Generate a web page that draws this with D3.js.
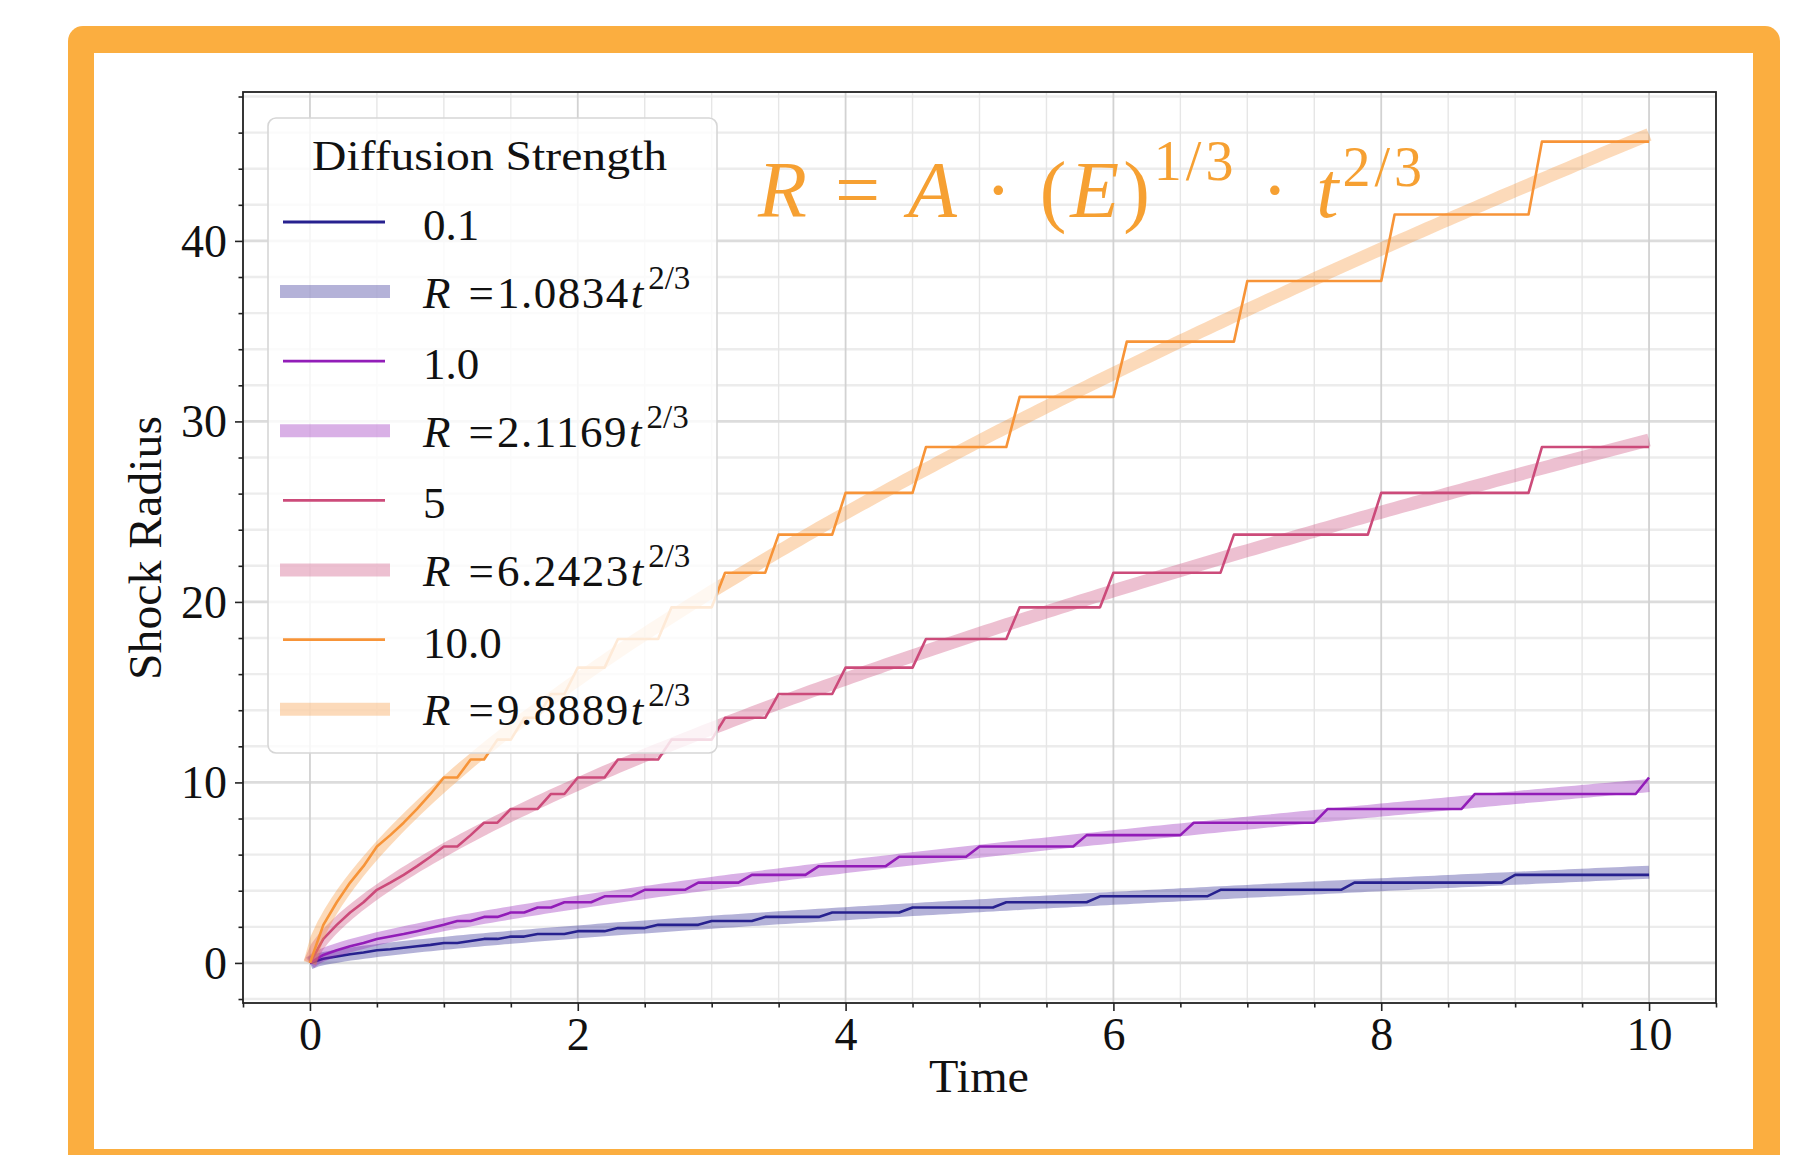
<!DOCTYPE html>
<html>
<head>
<meta charset="utf-8">
<script src="https://cdn.jsdelivr.net/npm/d3@7"></script>
<style>
  body { margin: 0; background: #ffffff; }
  text { font-family: "Liberation Serif", "Times New Roman", serif; fill: #111; }
</style>
</head>
<body>
<svg id="chart" width="1816" height="1155"></svg>
<script>
// ---- data -------------------------------------------------------------
const strengthLabels = ["0.1", "1.0", "5", "10.0"];
const fitCoefficients = [1.0834, 2.1169, 6.2423, 9.8889];
const lineColors = ["#27218f", "#921db8", "#cc4b7a", "#f79438"];

// shock radius vs time, corner points of each simulated trace
const radiusE01 = [[0,0],[0.1,0.23],[0.2,0.36],[0.3,0.48],[0.4,0.58],[0.5,0.70],[0.6,0.76],[0.7,0.84],[0.8,0.92],[0.9,1.00],[1.0,1.10],[1.1,1.10],[1.2,1.21],[1.3,1.33],[1.4,1.33],[1.5,1.46],[1.6,1.46],[1.7,1.60],[1.9,1.60],[2.0,1.76],[2.2,1.76],[2.3,1.93],[2.5,1.93],[2.6,2.11],[2.9,2.11],[3.0,2.32],[3.3,2.32],[3.4,2.55],[3.8,2.55],[3.9,2.79],[4.4,2.79],[4.5,3.07],[5.1,3.07],[5.2,3.36],[5.8,3.36],[5.9,3.69],[6.7,3.69],[6.8,4.05],[7.7,4.05],[7.8,4.45],[8.9,4.45],[9.0,4.88],[10,4.88]];
const radiusE1 = [[0,0],[0.1,0.44],[0.2,0.70],[0.3,0.92],[0.4,1.10],[0.5,1.33],[0.6,1.46],[0.7,1.60],[0.8,1.76],[0.9,1.93],[1.0,2.11],[1.1,2.32],[1.2,2.32],[1.3,2.55],[1.4,2.55],[1.5,2.79],[1.6,2.79],[1.7,3.07],[1.8,3.07],[1.9,3.36],[2.1,3.36],[2.2,3.69],[2.4,3.69],[2.5,4.05],[2.8,4.05],[2.9,4.45],[3.2,4.45],[3.3,4.88],[3.7,4.88],[3.8,5.36],[4.3,5.36],[4.4,5.88],[4.9,5.88],[5.0,6.45],[5.7,6.45],[5.8,7.08],[6.5,7.08],[6.6,7.77],[7.5,7.77],[7.6,8.53],[8.6,8.53],[8.7,9.36],[9.9,9.36],[10,10.27]];
const radiusE5 = [[0,0],[0.1,1.33],[0.2,2.11],[0.3,2.79],[0.4,3.36],[0.5,4.05],[0.6,4.45],[0.7,4.88],[0.8,5.36],[0.9,5.88],[1.0,6.45],[1.1,6.45],[1.2,7.08],[1.3,7.77],[1.4,7.77],[1.5,8.53],[1.7,8.53],[1.8,9.36],[1.9,9.36],[2.0,10.27],[2.2,10.27],[2.3,11.27],[2.6,11.27],[2.7,12.37],[3.0,12.37],[3.1,13.58],[3.4,13.58],[3.5,14.90],[3.9,14.90],[4.0,16.36],[4.5,16.36],[4.6,17.95],[5.2,17.95],[5.3,19.70],[5.9,19.70],[6.0,21.62],[6.8,21.62],[6.9,23.73],[7.9,23.73],[8.0,26.04],[9.1,26.04],[9.2,28.58],[10,28.58]];
const radiusE10 = [[0,0],[0.1,2.11],[0.2,3.36],[0.3,4.45],[0.4,5.36],[0.5,6.45],[0.6,7.08],[0.7,7.77],[0.8,8.53],[0.9,9.36],[1.0,10.27],[1.1,10.27],[1.2,11.27],[1.3,11.27],[1.4,12.37],[1.5,12.37],[1.6,13.58],[1.7,13.58],[1.8,14.90],[1.9,14.90],[2.0,16.36],[2.2,16.36],[2.3,17.95],[2.6,17.95],[2.7,19.70],[3.0,19.70],[3.1,21.62],[3.4,21.62],[3.5,23.73],[3.9,23.73],[4.0,26.04],[4.5,26.04],[4.6,28.58],[5.2,28.58],[5.3,31.36],[6.0,31.36],[6.1,34.42],[6.9,34.42],[7.0,37.78],[8.0,37.78],[8.1,41.46],[9.1,41.46],[9.2,45.50],[10,45.50]];
const traces = [radiusE01, radiusE1, radiusE5, radiusE10];

const xTickValues = [0, 2, 4, 6, 8, 10];
const yTickValues = [0, 10, 20, 30, 40];
const xLabel = "Time";
const yLabel = "Shock Radius";
const legendTitle = "Diffusion Strength";

// ---- layout -----------------------------------------------------------
const svg = d3.select("#chart");
const plot = { left: 243, right: 1716, top: 92, bottom: 1003 };

const x = d3.scaleLinear().domain([-0.5, 10.5]).range([plot.left, plot.right]);
const y = d3.scaleLinear().domain([-2.22, 48.25]).range([plot.bottom, plot.top]);

const xMinor = d3.range(-0.5, 10.51, 0.5).filter(v => !xTickValues.includes(v));
const yMinor = d3.range(-2, 48.3, 2).filter(v => !yTickValues.includes(v));

// orange card frame
svg.append("rect").attr("x", 68).attr("y", 26).attr("width", 1712).attr("height", 1200)
  .attr("rx", 15).attr("fill", "#fbae40");
svg.append("rect").attr("x", 94).attr("y", 53).attr("width", 1659).attr("height", 1096)
  .attr("fill", "#ffffff");

svg.append("defs").append("clipPath").attr("id", "plotClip")
  .append("rect").attr("x", plot.left).attr("y", plot.top)
  .attr("width", plot.right - plot.left).attr("height", plot.bottom - plot.top);

// grid
const grid = svg.append("g").attr("clip-path", "url(#plotClip)");
grid.selectAll(".gyMinor").data(yMinor).join("line")
  .attr("x1", plot.left).attr("x2", plot.right)
  .attr("y1", d => y(d)).attr("y2", d => y(d))
  .attr("stroke", "#ececec").attr("stroke-width", 2.4);
grid.selectAll(".gxMinor").data(xMinor).join("line")
  .attr("y1", plot.top).attr("y2", plot.bottom)
  .attr("x1", d => x(d)).attr("x2", d => x(d))
  .attr("stroke", "#e6e6e6").attr("stroke-width", 1.4);
grid.selectAll(".gyMajor").data(yTickValues).join("line")
  .attr("x1", plot.left).attr("x2", plot.right)
  .attr("y1", d => y(d)).attr("y2", d => y(d))
  .attr("stroke", "#dcdcdc").attr("stroke-width", 2.8);
grid.selectAll(".gxMajor").data(xTickValues).join("line")
  .attr("y1", plot.top).attr("y2", plot.bottom)
  .attr("x1", d => x(d)).attr("x2", d => x(d))
  .attr("stroke", "#d2d2d2").attr("stroke-width", 1.8);

// traces and their t^(2/3) fits
const fitTimes = d3.range(0, 10.0001, 0.05);
const line = d3.line().x(d => x(d[0])).y(d => y(d[1]));
const marks = svg.append("g").attr("clip-path", "url(#plotClip)");
traces.forEach((tr, i) => {
  marks.append("path").datum(tr).attr("d", line)
    .attr("fill", "none").attr("stroke", lineColors[i]).attr("stroke-width", 2.6)
    .attr("stroke-linejoin", "round");
  const k = fitCoefficients[i];
  const fit = fitTimes.map(t => [t, k * Math.pow(t, 2 / 3)]);
  marks.append("path").datum(fit).attr("d", line)
    .attr("fill", "none").attr("stroke", lineColors[i]).attr("stroke-opacity", 0.35)
    .attr("stroke-width", 13).attr("stroke-linecap", "butt");
});

// axes
const axisColor = "#222";
const gx = svg.append("g").attr("transform", `translate(0,${plot.bottom})`)
  .call(d3.axisBottom(x).tickValues(xTickValues).tickSize(8).tickSizeOuter(0).tickFormat(d3.format("d")));
gx.selectAll("text").attr("y", 47).attr("dy", 0).style("font-size", "46px").attr("fill", "#111");
gx.append("g").call(d3.axisBottom(x).tickValues(xMinor).tickSize(4.5).tickSizeOuter(0).tickFormat(""));
const gy = svg.append("g").attr("transform", `translate(${plot.left},0)`)
  .call(d3.axisLeft(y).tickValues(yTickValues).tickSize(8).tickSizeOuter(0).tickFormat(d3.format("d")));
gy.selectAll("text").attr("x", -16).attr("dy", "0.33em").style("font-size", "46px").attr("fill", "#111");
gy.append("g").call(d3.axisLeft(y).tickValues(yMinor).tickSize(4.5).tickSizeOuter(0).tickFormat(""));
svg.selectAll(".domain").remove();
svg.selectAll(".tick line").attr("stroke", axisColor).attr("stroke-width", 1.6);

svg.append("rect").attr("x", plot.left).attr("y", plot.top)
  .attr("width", plot.right - plot.left).attr("height", plot.bottom - plot.top)
  .attr("fill", "none").attr("stroke", axisColor).attr("stroke-width", 1.8);

// axis titles
svg.append("text").attr("x", 979).attr("y", 1092).attr("text-anchor", "middle")
  .style("font-size", "46px").attr("textLength", 100).attr("lengthAdjust", "spacingAndGlyphs")
  .text(xLabel);
svg.append("text").attr("transform", "translate(161,548) rotate(-90)").attr("text-anchor", "middle")
  .style("font-size", "46px").attr("textLength", 264).attr("lengthAdjust", "spacingAndGlyphs")
  .text(yLabel);

// legend
const legend = svg.append("g");
legend.append("rect").attr("x", 268).attr("y", 118).attr("width", 449).attr("height", 635)
  .attr("rx", 8).attr("fill", "#ffffff").attr("fill-opacity", 0.8)
  .attr("stroke", "#d6d6d6").attr("stroke-width", 1.6);
legend.append("text").attr("x", 489.5).attr("y", 170).attr("text-anchor", "middle")
  .style("font-size", "42px").attr("textLength", 355).attr("lengthAdjust", "spacingAndGlyphs")
  .text(legendTitle);

const rowStep = 69.6, firstRow = 222;
strengthLabels.forEach((lab, i) => {
  const yl = firstRow + rowStep * (2 * i);
  legend.append("line").attr("x1", 283).attr("x2", 385).attr("y1", yl).attr("y2", yl)
    .attr("stroke", lineColors[i]).attr("stroke-width", 2.8);
  legend.append("text").attr("x", 423).attr("y", yl + 18).style("font-size", "45px").text(lab);

  const yf = firstRow + rowStep * (2 * i + 1);
  legend.append("line").attr("x1", 280).attr("x2", 390).attr("y1", yf).attr("y2", yf)
    .attr("stroke", lineColors[i]).attr("stroke-opacity", 0.35).attr("stroke-width", 13);
  // "R =k t^{2/3}" built as one text run with inline superscript
  const base = yf + 16;
  const t = legend.append("text").attr("x", 423).attr("y", base).style("font-size", "45px");
  t.append("tspan").style("font-style", "italic").text("R");
  t.append("tspan").attr("dx", 18).text("=");
  t.append("tspan").attr("dx", 3).style("letter-spacing", "1.5px").text(fitCoefficients[i].toFixed(4));
  t.append("tspan").attr("dx", 1).style("font-style", "italic").text("t");
  t.append("tspan").attr("dx", 5).attr("dy", -19).style("font-size", "33px").text("2/3");
});

// scaling law annotation, one text run with inline superscripts
const eqColor = "#f6a032";
const eq = svg.append("text").attr("x", 758).attr("y", 217)
  .style("font-size", "80px").style("fill", eqColor)
  .attr("textLength", 664).attr("lengthAdjust", "spacing");
const part = (s, opts = {}) => {
  const ts = eq.append("tspan").text(s).style("fill", eqColor);
  if (opts.italic) ts.style("font-style", "italic");
  if (opts.size) ts.style("font-size", opts.size + "px");
  if (opts.dy !== undefined) ts.attr("dy", opts.dy);
  return ts;
};
part("R", { italic: true });
part(" = ");
part("A", { italic: true });
part(" · (");
part("E", { italic: true });
part(")");
part("1/3", { size: 56, dy: -37 });
part(" · ", { dy: 37 });
part("t", { italic: true });
part("2/3", { size: 56, dy: -31 });
</script>
</body>
</html>
